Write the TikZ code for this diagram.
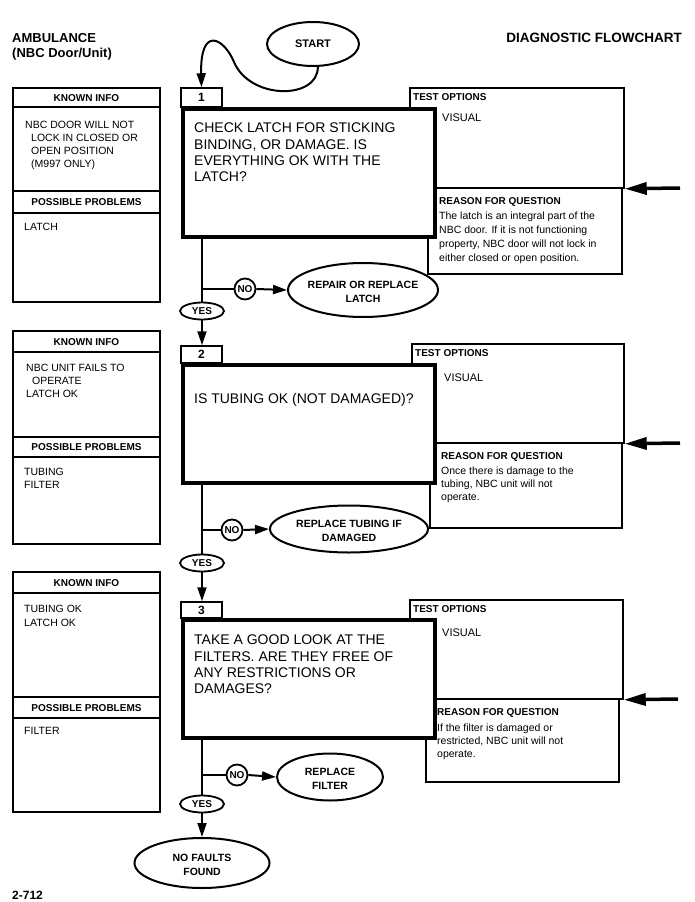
\documentclass[tikz,border=0pt]{standalone}
\usepackage{fontspec}
\setmainfont{Liberation Sans}
\usetikzlibrary{arrows.meta,shapes.geometric,fit}
\newcommand\fsz[2]{\fontsize{#1}{#2}\selectfont}
\begin{document}
\begin{tikzpicture}[x=1pt,y=-1pt,
  boxl/.style={draw, line width=1.3pt, inner sep=0pt, fill=white},
  optl/.style={draw, line width=1.5pt, inner sep=0pt},
  qbox/.style={draw, line width=4.5pt, fill=white, inner sep=0pt},
  lbl/.style={draw, line width=1.5pt, fill=white, inner sep=0pt},
  lbltxt/.style={inner sep=0pt, font=\bfseries\fsz{12}{14}},
  hdr/.style={inner sep=0pt, anchor=base, font=\bfseries\fsz{10}{12}},
  sub/.style={inner sep=0pt, anchor=base west, font=\bfseries\fsz{10}{12}},
  vis/.style={inner sep=0pt, anchor=base west, font=\fsz{11}{13}},
  body/.style={inner sep=0pt, anchor=north west, align=left, font=\fsz{10.5}{13}},
  qtext/.style={inner sep=0pt, anchor=north west, align=left, font=\fsz{14}{16.3}},
  oval/.style={draw, ellipse, line width=2pt, inner sep=0pt, fill=white},
  otext/.style={inner sep=0pt, align=center, font=\bfseries\fsz{10.5}{14}},
  nocirc/.style={draw, circle, line width=1.8pt, minimum size=21pt, inner sep=0pt, fill=white, font=\bfseries\fsz{10}{12}},
  yesov/.style={draw, ellipse, line width=1.8pt, minimum width=44pt, minimum height=17pt, inner sep=0pt, fill=white, font=\bfseries\fsz{10}{12}},
  flow/.style={line width=2pt},
  flowarr/.style={line width=2pt, -{Triangle[length=14pt,width=9pt]}},
  bigarr/.style={line width=3.5pt, -{Triangle[length=22pt,width=12pt]}}
]
\useasboundingbox (0,0) rectangle (694,902);
\fill[white] (0,0) rectangle (694,902);

% header
\node[inner sep=0pt, anchor=base west, font=\bfseries\fsz{13}{15}] (hA) at (12,42.7) {AMBULANCE};
\node[inner sep=0pt, anchor=base west, font=\bfseries\fsz{13}{15}] (hB) at (12,57.7) {(NBC Door/Unit)};
\node[inner sep=0pt, anchor=base east, font=\bfseries\fsz{13.5}{15}] (hC) at (682,42.8) {DIAGNOSTIC FLOWCHART};
\node[oval, minimum width=92pt, minimum height=44pt, font=\bfseries\fsz{11}{13}] (st) at (313,44) {START};

% ---------- row 1 ----------
\node[optl, fit={(410,88) (624,188)}] (o1) {};
\node[optl, fit={(428,188) (622,274)}] (r1) {};
\node[qbox, fit={(183,109) (435,237)}] (m1) {};
\node[lbl, fit={(181,88) (222,107)}] (l1) {};
\node[lbltxt] (l1t) at (l1.center) {1};
\node[sub] (o1a) at (413,100.1) {TEST OPTIONS};
\node[vis] (o1b) at (442,121) {VISUAL};
\node[sub] (r1a) at (439,204.6) {REASON FOR QUESTION};
\node[body, font=\fsz{10.5}{14}] (r1b) at (439,211.2) {The latch is an integral part of the\\NBC door. If it is not functioning\\property, NBC door will not lock in\\either closed or open position.};
\node[qtext] (m1t) at (194,123) {CHECK LATCH FOR STICKING\\BINDING, OR DAMAGE. IS\\EVERYTHING OK WITH THE\\LATCH?};

\node[boxl, fit={(13,88) (160,107)}] (k1h) {};
\node[boxl, fit={(13,107) (160,191)}] (k1b) {};
\node[boxl, fit={(13,191) (160,213)}] (k1p) {};
\node[boxl, fit={(13,213) (160,302)}] (k1q) {};
\node[hdr] (k1ht) at (86.5,101.1) {KNOWN INFO};
\node[body] (k1bt) at (25,121.2) {NBC DOOR WILL NOT\\\hspace*{6pt}LOCK IN CLOSED OR\\\hspace*{6pt}OPEN POSITION\\\hspace*{6pt}(M997 ONLY)};
\node[hdr] (k1pt) at (86.5,205.6) {POSSIBLE PROBLEMS};
\node[body] (k1qt) at (24,223.2) {LATCH};

% ---------- row 2 ----------
\node[optl, fit={(412,344) (624,443)}] (o2) {};
\node[optl, fit={(430,443) (622,528)}] (r2) {};
\node[qbox, fit={(183,365) (435,483)}] (m2) {};
\node[lbl, fit={(181,346) (222,363)}] (l2) {};
\node[lbltxt] (l2t) at (l2.center) {2};
\node[sub] (o2a) at (415,356.6) {TEST OPTIONS};
\node[vis] (o2b) at (444,381) {VISUAL};
\node[sub] (r2a) at (441,459.6) {REASON FOR QUESTION};
\node[body] (r2b) at (441,466.2) {Once there is damage to the\\tubing, NBC unit will not\\operate.};
\node[inner sep=0pt, anchor=base west, font=\fsz{14}{16}] (m2t) at (194,403) {IS TUBING OK (NOT DAMAGED)?};

\node[boxl, fit={(13,331) (160,352)}] (k2h) {};
\node[boxl, fit={(13,352) (160,437)}] (k2b) {};
\node[boxl, fit={(13,437) (160,457)}] (k2p) {};
\node[boxl, fit={(13,457) (160,544)}] (k2q) {};
\node[hdr] (k2ht) at (86.5,345.1) {KNOWN INFO};
\node[body] (k2bt) at (26,364.2) {NBC UNIT FAILS TO\\\hspace*{6pt}OPERATE\\LATCH OK};
\node[hdr] (k2pt) at (86.5,450.6) {POSSIBLE PROBLEMS};
\node[body, font=\fsz{10.5}{12.5}] (k2qt) at (24,468.2) {TUBING\\FILTER};

% ---------- row 3 ----------
\node[optl, fit={(410,600) (623,699)}] (o3) {};
\node[optl, fit={(426,699) (619,782)}] (r3) {};
\node[qbox, fit={(183,620) (435,738)}] (m3) {};
\node[lbl, fit={(181,602) (222,618)}] (l3) {};
\node[lbltxt] (l3t) at (l3.center) {3};
\node[sub] (o3a) at (413,612.6) {TEST OPTIONS};
\node[vis] (o3b) at (442,636) {VISUAL};
\node[sub] (r3a) at (437,715.6) {REASON FOR QUESTION};
\node[body] (r3b) at (437,723.2) {If the filter is damaged or\\restricted, NBC unit will not\\operate.};
\node[qtext] (m3t) at (194,635) {TAKE A GOOD LOOK AT THE\\FILTERS. ARE THEY FREE OF\\ANY RESTRICTIONS OR\\DAMAGES?};

\node[boxl, fit={(13,572) (160,593)}] (k3h) {};
\node[boxl, fit={(13,593) (160,697)}] (k3b) {};
\node[boxl, fit={(13,697) (160,718)}] (k3p) {};
\node[boxl, fit={(13,718) (160,812)}] (k3q) {};
\node[hdr] (k3ht) at (86.5,586.1) {KNOWN INFO};
\node[body, font=\fsz{10.5}{13.5}] (k3bt) at (24,605.2) {TUBING OK\\LATCH OK};
\node[hdr] (k3pt) at (86.5,711.1) {POSSIBLE PROBLEMS};
\node[body] (k3qt) at (24,727.2) {FILTER};

% ---------- flow nodes ----------
\coordinate (j1) at (202,289);
\node[yesov] (y1) at (202,311) {YES};
\node[nocirc] (n1) at (245,289) {NO};
\node[oval, minimum width=150pt, minimum height=54pt] (e1) at (363,290) {};
\node[otext] (e1t) at (363,292) {REPAIR OR REPLACE\\LATCH};

\coordinate (j2) at (202,530);
\node[yesov] (y2) at (202,563) {YES};
\node[nocirc] (n2) at (232,530) {NO};
\node[oval, minimum width=158pt, minimum height=47pt] (e2) at (349,529) {};
\node[otext] (e2t) at (349,531) {REPLACE TUBING IF\\DAMAGED};

\coordinate (j3) at (202,775);
\node[yesov] (y3) at (202,804) {YES};
\node[nocirc] (n3) at (237,775) {NO};
\node[oval, minimum width=106pt, minimum height=47pt] (e3) at (330,777) {};
\node[otext] (e3t) at (330,779) {REPLACE\\FILTER};
\node[oval, minimum width=135pt, minimum height=50pt] (e4) at (202,863) {};
\node[otext] (e4t) at (202,865) {NO FAULTS\\FOUND};

% ---------- connectors ----------
\coordinate (cv) at (234,62);
\draw[flowarr] (st.282) .. controls (318,100) and (250,100) .. (cv)
  .. controls (224,38) and (200,25) .. (l1.north);

\draw[flow] (m1.south -| j1) -- (y1.north);
\draw[flow] (j1) -- (n1.west);
\draw[flowarr] (n1.east) -- (e1.west);
\draw[flowarr] (y1.south) -- (l2.north -| y1);

\draw[flow] (m2.south -| j2) -- (y2.north);
\draw[flow] (j2) -- (n2.west);
\draw[flowarr] (n2.east) -- (e2.west);
\draw[flowarr] (y2.south) -- (l3.north -| y2);

\draw[flow] (m3.south -| j3) -- (y3.north);
\draw[flow] (j3) -- (n3.west);
\draw[flowarr] (n3.east) -- (e3.west);
\draw[flowarr] (y3.south) -- (e4.north);

\coordinate (ra1) at (680,188);
\coordinate (ra2) at (680,443);
\coordinate (ra3) at (678,699);
\draw[bigarr] (ra1) -- (o1.south east);
\draw[bigarr] (ra2) -- (o2.south east);
\draw[bigarr] (ra3) -- (o3.south east);

\node[inner sep=0pt, anchor=base west, font=\bfseries\fsz{12}{14}] (pg) at (12,899) {2-712};
\end{tikzpicture}
\end{document}
